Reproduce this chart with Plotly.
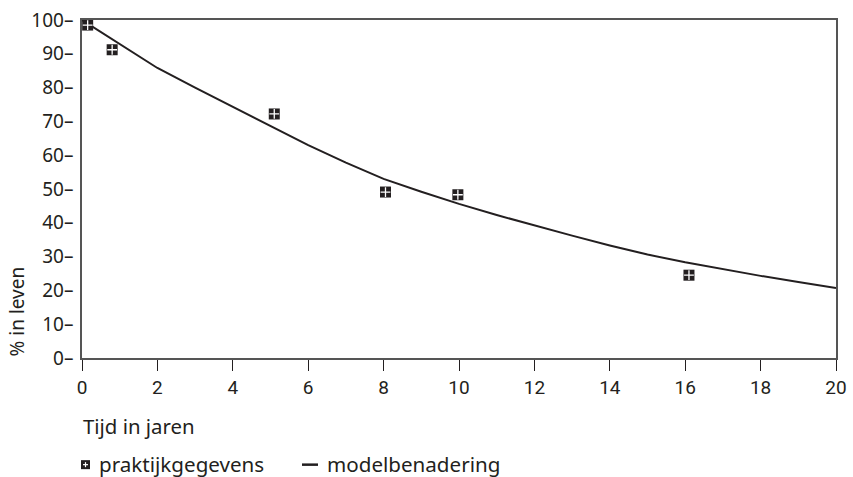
import plotly.graph_objects as go

# Observed data points (praktijkgegevens)
obs_years = [0.15, 0.8, 5.1, 8.05, 9.97, 16.1]
obs_pct = [98.5, 91.2, 72.2, 49.1, 48.3, 24.5]

# Model curve (modelbenadering) at each year
model_years = [0, 1, 2, 3, 4, 5, 6, 7, 8, 9, 10, 11, 12, 13, 14, 15, 16, 17, 18, 19, 20]
model_pct = [100, 93.0, 85.8, 80.0, 74.3, 68.5, 63.0, 57.8, 53.0, 49.2, 45.6,
             42.3, 39.2, 36.2, 33.3, 30.6, 28.3, 26.2, 24.3, 22.5, 20.7]

x_ticks = [0, 2, 4, 6, 8, 10, 12, 14, 16, 18, 20]
x_tick_text = [str(v) for v in x_ticks]
y_ticks = [0, 10, 20, 30, 40, 50, 60, 70, 80, 90, 100]
y_tick_text = [f"{v}\u2013" for v in y_ticks]

ink = "#231f20"
axis_col = "#555555"

fig = go.Figure()
fig.add_trace(go.Scatter(
    x=model_years, y=model_pct, mode="lines",
    line=dict(color=ink, width=2), showlegend=False, hoverinfo="skip"))
fig.add_trace(go.Scatter(
    x=obs_years, y=obs_pct, mode="markers",
    marker=dict(symbol="square", size=11, color=ink, line=dict(width=0)),
    showlegend=False))
fig.add_trace(go.Scatter(
    x=obs_years, y=obs_pct, mode="markers",
    marker=dict(symbol="cross-thin", size=7, color="white",
                line=dict(color="white", width=1.3)),
    showlegend=False, hoverinfo="skip"))

fig.update_layout(
    width=853, height=477,
    margin=dict(l=82, r=17, t=20, b=119, autoexpand=False),
    paper_bgcolor="white", plot_bgcolor="white",
    font=dict(family="Noto Sans", color=ink),
    showlegend=False,
    xaxis=dict(range=[0, 20], tickmode="array", tickvals=x_ticks, ticktext=x_tick_text,
               ticks="outside", ticklen=11, tickangle=0,
               tickwidth=1, tickcolor=ink, showgrid=False, zeroline=False,
               showline=True, linecolor=axis_col, linewidth=1.5, mirror=True,
               tickfont=dict(family="Roboto", size=19, color=ink)),
    yaxis=dict(range=[0, 100], tickmode="array", tickvals=y_ticks, ticktext=y_tick_text,
               ticks="outside", ticklen=3, tickcolor="rgba(0,0,0,0)",
               showgrid=False, zeroline=False,
               showline=True, linecolor=axis_col, linewidth=1.5, mirror=True,
               tickfont=dict(family="Noto Sans", size=19, color=ink)),
)

def px_x(p):
    return (p - 82) / 754

def px_y(p):
    return (357.5 - p) / 337.5

annots = [
    dict(text="Tijd in jaren", x=px_x(81), y=px_y(425), xanchor="left", yanchor="middle",
         font=dict(size=20.4)),
    dict(text="% in leven", x=px_x(17), y=px_y(311), xanchor="center", yanchor="middle",
         textangle=-90, font=dict(size=19)),
    dict(text="praktijkgegevens", x=px_x(97), y=px_y(463), xanchor="left",
         yanchor="middle", font=dict(size=20.6)),
    dict(text="modelbenadering", x=px_x(325), y=px_y(463), xanchor="left",
         yanchor="middle", font=dict(size=20.6)),
]
for a in annots:
    a.update(xref="paper", yref="paper", showarrow=False)
    fig.add_annotation(**a)

shapes = [
    dict(type="rect", x0=px_x(81), x1=px_x(90), y0=px_y(468.5), y1=px_y(459.5),
         fillcolor=ink, line=dict(width=0)),
    dict(type="line", x0=px_x(83), x1=px_x(88), y0=px_y(464), y1=px_y(464),
         line=dict(color="white", width=1.2)),
    dict(type="line", x0=px_x(85.5), x1=px_x(85.5), y0=px_y(466.5), y1=px_y(461.5),
         line=dict(color="white", width=1.2)),
    dict(type="line", x0=px_x(302), x1=px_x(318), y0=px_y(464), y1=px_y(464),
         line=dict(color=ink, width=2.5)),
]
for s in shapes:
    s.update(xref="paper", yref="paper")
    fig.add_shape(**s)

fig.write_html("out.html", post_script="document.body.style.margin='0px';",
               config={"displayModeBar": False})
